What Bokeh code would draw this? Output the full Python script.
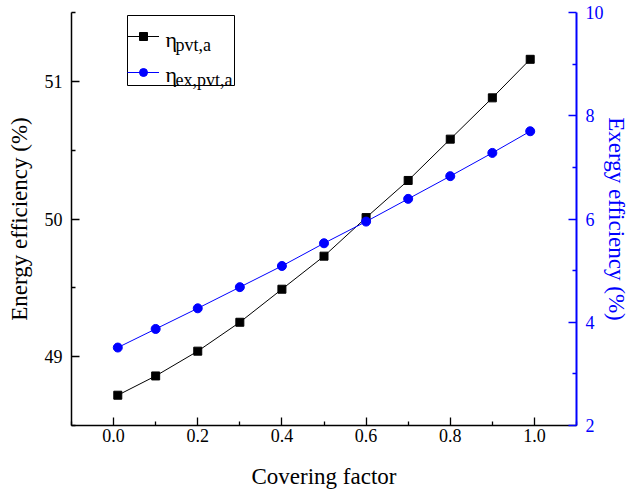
from bokeh.plotting import figure
from bokeh.models import (Range1d, LinearAxis, FixedTicker, PrintfTickFormatter,
                          Legend, LegendItem, BoxAnnotation, Label)
from bokeh.embed import file_html
from bokeh.resources import INLINE

# ---- data ----
covering_factor = [0.01, 0.1, 0.2, 0.3, 0.4, 0.5, 0.6, 0.7, 0.8, 0.9, 0.99]
eta_pvt_a = [48.72, 48.86, 49.04, 49.25, 49.49, 49.73, 50.01, 50.28, 50.58, 50.88, 51.16]
eta_ex_pvt_a = [3.51, 3.87, 4.27, 4.68, 5.09, 5.53, 5.95, 6.39, 6.83, 7.28, 7.70]

x_ticks = [0.0, 0.2, 0.4, 0.6, 0.8, 1.0]
x_minor = [-0.1, 0.1, 0.3, 0.5, 0.7, 0.9, 1.1]
left_ticks = [49, 50, 51]
left_minor = [48.5, 49.5, 50.5, 51.5]
right_ticks = [2, 4, 6, 8, 10]
right_minor = [3, 5, 7, 9]

x_title = "Covering factor"
left_title = "Energy efficiency (%)"
right_title = "Exergy efficiency (%)"

FONT = "'Liberation Serif'"
BLUE = "#0000FF"

p = figure(width=631, height=495, output_backend="svg", toolbar_location=None,
           x_range=Range1d(-0.1, 1.1), y_range=Range1d(48.5, 51.5),
           min_border_left=71, min_border_right=55, min_border_top=12, min_border_bottom=70)
p.extra_y_ranges = {"right": Range1d(2, 10)}
p.grid.visible = False
p.outline_line_color = None
p.background_fill_color = "white"
p.border_fill_color = "white"

r1l = p.line(covering_factor, eta_pvt_a, line_color="black", line_width=1)
r1m = p.scatter(covering_factor, eta_pvt_a, marker="square", size=8,
                fill_color="black", line_color="black")
r2l = p.line(covering_factor, eta_ex_pvt_a, line_color=BLUE, line_width=1, y_range_name="right")
r2m = p.scatter(covering_factor, eta_ex_pvt_a, marker="circle", size=9,
                fill_color=BLUE, line_color=BLUE, y_range_name="right")

def style(ax, color):
    ax.axis_line_color = color
    ax.axis_line_width = 1.5
    ax.major_tick_line_color = color
    ax.minor_tick_line_color = color
    ax.major_tick_line_width = 1.3
    ax.minor_tick_line_width = 1.3
    ax.major_tick_in = 8
    ax.major_tick_out = 0
    ax.minor_tick_in = 4
    ax.minor_tick_out = 0
    ax.major_label_text_font = FONT
    ax.major_label_text_font_size = "18px"
    ax.major_label_text_color = color
    ax.axis_label_text_font = FONT
    ax.axis_label_text_font_size = "23px"
    ax.axis_label_text_font_style = "normal"
    ax.axis_label_text_color = color

xa = p.xaxis[0]
xa.ticker = FixedTicker(ticks=x_ticks, minor_ticks=x_minor)
xa.formatter = PrintfTickFormatter(format="%.1f")
xa.axis_label = x_title
style(xa, "black")
xa.major_label_standoff = 3
xa.axis_label_standoff = 19

ya = p.yaxis[0]
ya.ticker = FixedTicker(ticks=left_ticks, minor_ticks=left_minor)
ya.axis_label = left_title
style(ya, "black")
ya.major_label_standoff = 9
ya.axis_label_standoff = 10

ra = LinearAxis(y_range_name="right", axis_label=right_title)
ra.ticker = FixedTicker(ticks=right_ticks, minor_ticks=right_minor)
style(ra, BLUE)
ra.axis_line_width = 2
ra.major_label_standoff = 9
ra.axis_label_standoff = -3
p.add_layout(ra, "right")

# legend glyphs
legend = Legend(items=[LegendItem(label=" ", renderers=[r1l, r1m]),
                       LegendItem(label=" ", renderers=[r2l, r2m])],
                location=(56, 343), padding=0, margin=0, spacing=16,
                glyph_width=32, glyph_height=20, label_height=20, label_width=1,
                label_standoff=0, border_line_alpha=0, background_fill_alpha=0)
p.add_layout(legend, "center")

box = BoxAnnotation(left=56, right=163, top=410, bottom=340,
                    left_units="screen", right_units="screen",
                    top_units="screen", bottom_units="screen",
                    fill_alpha=0, line_color="black", line_width=1, line_alpha=1)
p.add_layout(box)

def lab(x, y, t, size):
    p.add_layout(Label(x=x, y=y, x_units="screen", y_units="screen", text=t,
                       text_font=FONT, text_font_size=size, text_color="black",
                       text_baseline="alphabetic", text_align="left"))

lab(94, 386, "η", "22px")
lab(104, 381, "pvt,a", "18px")
lab(94, 351, "η", "22px")
lab(104, 346, "ex,pvt,a", "18px")

open("out.html", "w").write(file_html(p, INLINE))
